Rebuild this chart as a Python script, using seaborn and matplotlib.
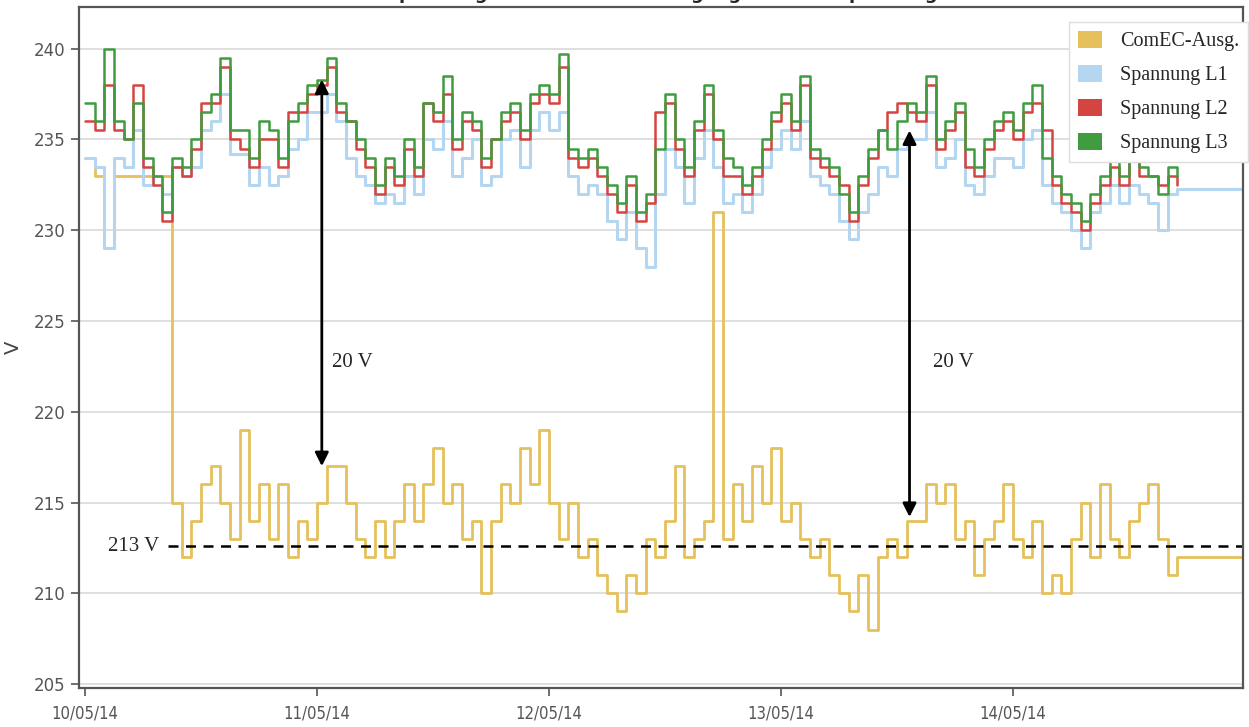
import matplotlib
matplotlib.use("Agg")
import matplotlib.pyplot as plt
import matplotlib.dates as mdates
from matplotlib.patches import Patch
import seaborn as sns
import pandas as pd
import numpy as np

# hourly readings from 10/05/14 00:00
start = pd.Timestamp("2014-05-10 00:00")
end_hour = 119.8  # flat continuation to the right edge

comec = [
    234, 233, 229, 233, 233, 233, 233, 233, 233, 215, 212, 214, 216, 217, 215, 213, 219, 214, 216, 213, 216, 212, 214, 213,
    215, 217, 217, 215, 213, 212, 214, 212, 214, 216, 214, 216, 218, 215, 216, 213, 214, 210, 214, 216, 215, 218, 216, 219,
    215, 213, 215, 212, 213, 211, 210, 209, 211, 210, 213, 212, 214, 217, 212, 213, 214, 231, 213, 216, 214, 217, 215, 218,
    214, 215, 213, 212, 213, 211, 210, 209, 211, 208, 212, 213, 212, 214, 214, 216, 215, 216, 213, 214, 211, 213, 214, 216,
    213, 212, 214, 210, 211, 210, 213, 215, 212, 216, 213, 212, 214, 215, 216, 213, 211, 212,
]
l1 = [
    234, 233.5, 229, 234, 233.5, 235.5, 232.5, 233, 232, 233.5, 233, 233.5, 235.5, 236, 237.5, 234.2, 234.2, 232.5, 233.5, 232.5, 233, 234.5, 235, 236.5,
    236.5, 237.5, 236, 234, 233, 232.5, 231.5, 232, 231.5, 233, 232, 235, 234.5, 236, 233, 234, 235, 232.5, 233, 235, 235.5, 233.5, 235.5, 236.5,
    235.5, 236.5, 233, 232, 232.5, 232, 230.5, 229.5, 231, 229, 228, 232, 234.5, 233.5, 231.5, 234, 235.5, 233.5, 231.5, 232, 231, 232, 233.5, 234.5,
    235.5, 234.5, 236, 233, 232.5, 232, 230.5, 229.5, 231, 232, 233.5, 233, 234.5, 235, 235, 236.5, 233.5, 234, 235, 232.5, 232, 233, 234, 234,
    233.5, 235, 235.5, 232.5, 231.5, 231, 230, 229, 231, 231.5, 232.5, 231.5, 232.5, 232, 231.5, 230, 232, 232.3,
]
l2 = [
    236, 235.5, 238, 235.5, 235, 238, 233.5, 232.5, 230.5, 233.5, 233, 234.5, 237, 237, 239, 235, 234.5, 233.5, 235, 235, 233.5, 236.5, 236.5, 237.5,
    238, 239, 236.5, 236, 234.5, 233.5, 232, 233.5, 232.5, 234.5, 233, 237, 236, 237.5, 234.5, 236, 235.5, 233.5, 235, 236, 236.5, 235, 237, 237.5,
    237, 239, 234, 233.5, 234, 233, 232, 231, 232.5, 230.5, 231.5, 236.5, 237, 234.5, 233, 235.5, 237.5, 235, 233, 233, 232, 233, 234.5, 236,
    237, 235.5, 238, 234, 233.5, 233, 232.5, 230.5, 232.5, 234, 235.5, 236.5, 237, 236.5, 236, 238, 234.5, 235.5, 236.5, 233.5, 233, 234.5, 235.5, 236,
    235, 236.5, 237, 235.5, 232.5, 231.5, 231, 230, 231.5, 232.5, 233.5, 232.5, 234, 233, 233, 232.5, 233, 232.5,
]
l3 = [
    237, 236, 240, 236, 235, 237, 234, 233, 231, 234, 233.5, 235, 236.5, 237.5, 239.5, 235.5, 235.5, 234, 236, 235.5, 234, 236, 237, 238,
    238.3, 239.5, 237, 236, 235, 234, 232.5, 234, 233, 235, 233.5, 237, 236.5, 238.5, 235, 236.5, 236, 234, 235, 236.5, 237, 235.5, 237.5, 238,
    237.5, 239.7, 234.5, 234, 234.5, 233.5, 232.5, 231.5, 233, 231, 232, 234.5, 237.5, 235, 233.5, 236, 238, 235.5, 234, 233.5, 232.5, 233.5, 235, 236.5,
    237.5, 236, 238.5, 234.5, 234, 233.5, 232, 231, 233, 234.5, 235.5, 234.5, 236, 237, 236.5, 238.5, 235, 236, 237, 234.5, 233.5, 235, 236, 236.5,
    235.5, 237, 238, 234, 233, 232, 231.5, 230.5, 232, 233, 234, 233, 234, 233.5, 233, 232, 233.5, 233,
]
comec_end = 212
l1_end = 232.3

series_names = ["ComEC-Ausg.", "Spannung L1", "Spannung L2", "Spannung L3"]
series_colors = ["#e6c05a", "#b5d6f0", "#d44440", "#3f9c3f"]
y_ticks = [205, 210, 215, 220, 225, 230, 235, 240]
ref_level = 212.6


def to_frame(name, values, tail=None):
    hours = list(range(len(values)))
    if tail is not None:
        hours = hours + [end_hour]
        values = list(values) + [tail]
    t = start + pd.to_timedelta(hours, unit="h")
    return pd.DataFrame({"Zeit": t, "V": values, "Serie": name})


df = pd.concat([
    to_frame(series_names[0], comec, comec_end),
    to_frame(series_names[1], l1, l1_end),
    to_frame(series_names[2], l2),
    to_frame(series_names[3], l3),
])

sns.set_style("white")
plt.rcParams["font.family"] = ["DejaVu Sans"]

fig = plt.figure(figsize=(12.49, 7.27), dpi=100)
ax = fig.add_axes([79 / 1249, 1 - 688 / 727, (1243 - 79) / 1249, (688 - 7) / 727])

for name, color, lw in zip(series_names, series_colors, [2.0, 2.2, 1.8, 1.8]):
    sub = df[df["Serie"] == name]
    sns.lineplot(data=sub, x="Zeit", y="V", color=color, lw=lw, ax=ax,
                 drawstyle="steps-post", legend=False)

# limits, ticks and grid
ax.set_xlim(start - pd.Timedelta(hours=0.62), start + pd.Timedelta(hours=end_hour))
ax.set_ylim(204.78, 242.3)
ax.set_yticks(y_ticks)
ax.yaxis.grid(True, color="#d9d9d9", lw=1.2)
ax.xaxis.grid(False)
ax.set_axisbelow(True)
ax.xaxis.set_major_locator(mdates.DayLocator())
ax.xaxis.set_major_formatter(mdates.DateFormatter("%d/%m/%y"))
ax.tick_params(axis="both", which="major", length=6, width=1.2, color="#555555",
               labelcolor="#555555", labelsize=12, direction="out",
               bottom=True, left=True)
ax.tick_params(axis="x", pad=6)
for lab in ax.get_xticklabels():
    lab.set_fontstretch("condensed")
ax.set_xlabel("")
ax.set_ylabel("V", fontsize=14, color="#444444", labelpad=8)
for s in ax.spines.values():
    s.set_color("#555555")
    s.set_linewidth(1.6)

# annotations
serif = "Liberation Serif"
ax.axhline(ref_level, xmin=(8.6 + 0.62) / (end_hour + 0.62), xmax=1,
           color="black", lw=1.8, ls=(0, (4, 3)))
ax.text(start + pd.Timedelta(hours=7.7), ref_level, "213 V", family=serif,
        fontsize=15, ha="right", va="center")

for t_arrow, top, bottom, t_text in [(24.5, 238.3, 217.0, 25.6), (85.3, 235.5, 214.2, 87.7)]:
    xa = start + pd.Timedelta(hours=t_arrow)
    ax.annotate("", xy=(xa, bottom), xytext=(xa, top),
                arrowprops=dict(arrowstyle="<|-|>", color="black", lw=2,
                                mutation_scale=20, shrinkA=0, shrinkB=0))
    ax.text(start + pd.Timedelta(hours=t_text), 222.7, "20 V", family=serif,
            fontsize=15, ha="left", va="center")

# legend with square swatches
handles = [Patch(facecolor=c, edgecolor="none", label=n) for n, c in zip(series_names, series_colors)]
leg = fig.legend(handles=handles, loc="upper right", bbox_to_anchor=(1248 / 1249, 1 - 22 / 727),
                 prop={"family": serif, "size": 14.5}, handlelength=1.15, handleheight=0.9,
                 labelspacing=0.68, borderpad=0.45, handletextpad=0.9, borderaxespad=0,
                 fancybox=False, framealpha=1, edgecolor="#dddddd")

# title cut off at the top edge of the reference picture
fig.text(0.53, 1 + 1 / 727, "Spannungsverlauf ComEC-Ausgang und Netzspannung",
         ha="center", va="baseline", fontsize=13, fontweight="bold")

fig.savefig("out.png", dpi=100)
